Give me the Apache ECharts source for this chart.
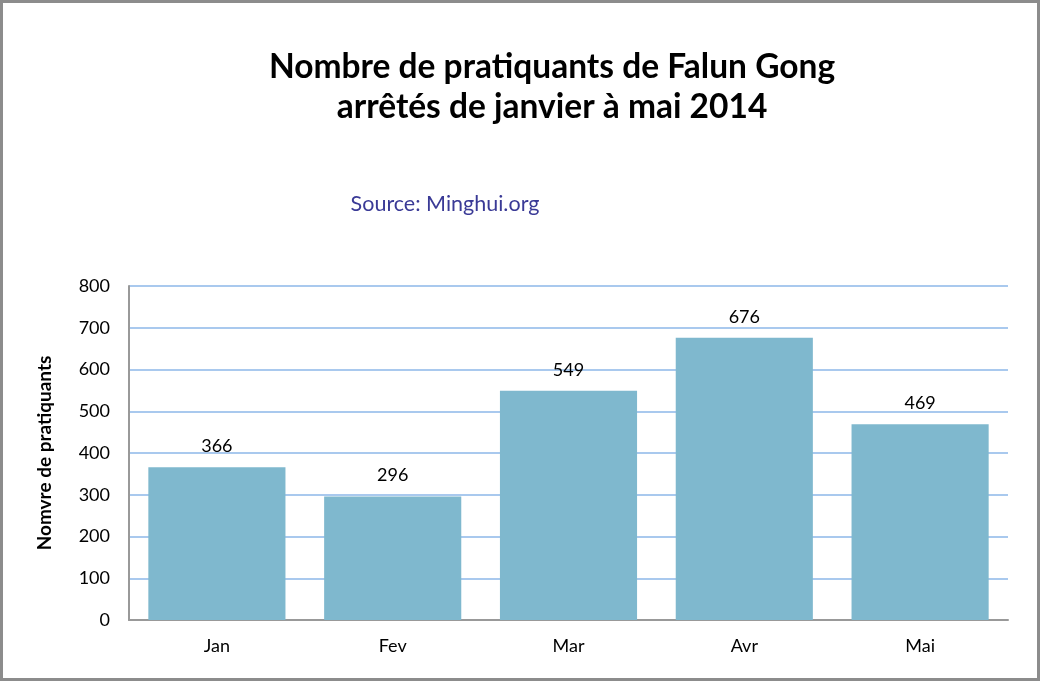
<!DOCTYPE html>
<html><head><meta charset="utf-8">
<script src="https://cdn.jsdelivr.net/npm/echarts@6/dist/echarts.min.js"></script>
<style>html,body{margin:0;padding:0;background:#fff}#c{width:1040px;height:681px;box-sizing:border-box;border:3px solid #8c8c8c}</style>
</head><body><div id="c"></div>
<script>
const categories = ['Jan', 'Fev', 'Mar', 'Avr', 'Mai'];
const arrests = [366, 296, 549, 676, 469];
const titleLines = ['Nombre de pratiquants de Falun Gong', 'arrêtés de janvier à mai 2014'];
const sourceText = 'Source: Minghui.org';
const yAxisName = 'Nomvre de pratiquants';

const chart = echarts.init(document.getElementById('c'));
const F = 'Lato, "Open Sans", sans-serif';
chart.setOption({
  animation: false,
  title: [
    { text: titleLines.join('\n'), left: 544, top: 39, textAlign: 'center',
      textStyle: { fontFamily: F, fontWeight: 'bold', fontSize: 33.5, lineHeight: 40, color: '#000' } },
    { text: sourceText, left: 437, top: 185, textAlign: 'center',
      textStyle: { fontFamily: F, fontWeight: 'normal', fontSize: 21.5, color: '#3a3a96' } }
  ],
  grid: { left: 126, top: 283, right: 29, bottom: 58 },
  xAxis: {
    type: 'category', data: categories,
    axisLine: { lineStyle: { color: '#999', width: 2 } },
    axisTick: { show: false },
    axisLabel: { fontFamily: F, fontSize: 18, color: '#000', margin: 17 }
  },
  yAxis: {
    type: 'value', min: 0, max: 800, interval: 100,
    name: yAxisName, nameLocation: 'middle', nameGap: 75,
    nameTextStyle: { fontFamily: F, fontWeight: 'bold', fontSize: 19, color: '#000' },
    axisLine: { show: true, lineStyle: { color: '#999', width: 2 } },
    axisTick: { show: false },
    axisLabel: { fontFamily: F, fontSize: 18, color: '#000', margin: 19 },
    splitLine: { lineStyle: { color: '#a9c9ee', width: 2 } }
  },
  series: [{
    type: 'bar', data: arrests, barWidth: '78%',
    itemStyle: { color: '#7fb8ce' },
    label: { show: true, position: 'top', distance: 12, fontFamily: F, fontSize: 18, color: '#000' }
  }]
});
</script></body></html>
